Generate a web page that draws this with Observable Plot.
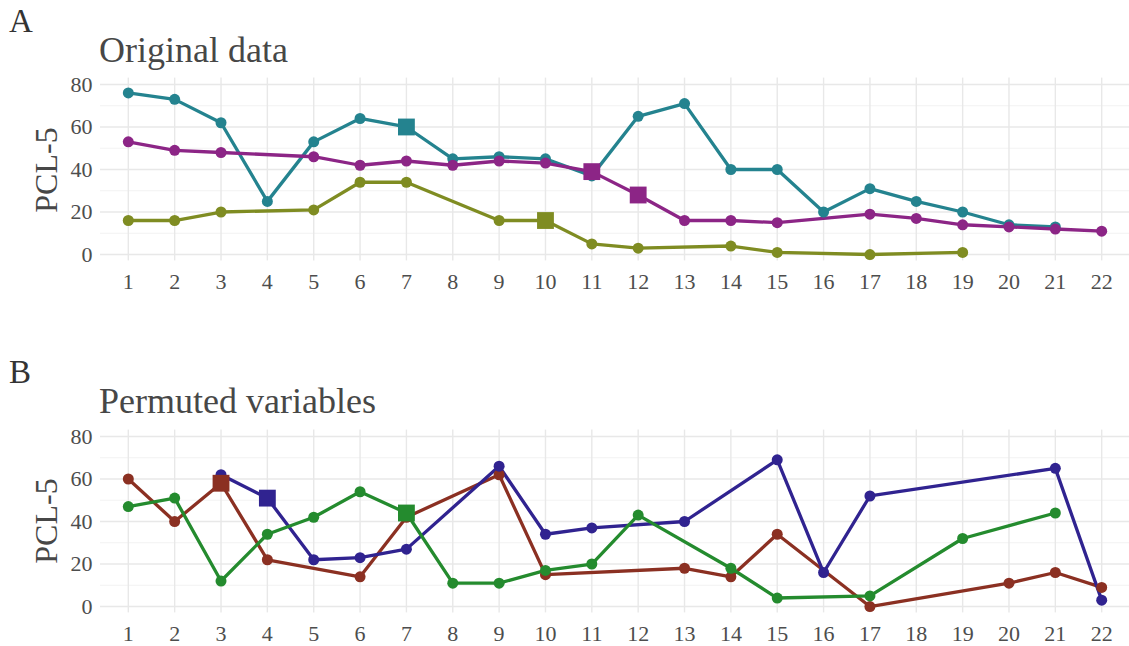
<!DOCTYPE html>
<html>
<head>
<meta charset="utf-8">
<script src="https://cdn.jsdelivr.net/npm/d3@7"></script>
<script src="https://cdn.jsdelivr.net/npm/@observablehq/plot@0.6"></script>
<style>
  html, body { margin: 0; padding: 0; background: #fff; }
  #root { position: relative; width: 1129px; height: 646px; font-family: "Liberation Serif", "Times New Roman", serif; overflow: hidden; }
  #root svg, #root svg text { font-family: "Liberation Serif", "Times New Roman", serif !important; }
  .tag { position: absolute; font-size: 33px; color: #333; line-height: 1; }
  .title { position: absolute; font-size: 36px; color: #474747; line-height: 1; white-space: nowrap; }
  .ylab { position: absolute; width: 90px; height: 32px; text-align: center; font-size: 32px; color: #474747; transform: rotate(-90deg); transform-origin: center; line-height: 1; white-space: nowrap; }
  .panel { position: absolute; left: 0; }
</style>
</head>
<body>
<div id="root">
  <div class="tag" style="left:9px; top:5px;">A</div>
  <div class="title" style="left:99px; top:32px;">Original data</div>
  <div class="ylab" style="left:1px; top:154px;">PCL-5</div>
  <div id="p1" class="panel" style="top:70px;"></div>
  <div class="tag" style="left:9px; top:356px;">B</div>
  <div class="title" style="left:99px; top:383px;">Permuted variables</div>
  <div class="ylab" style="left:1px; top:505px;">PCL-5</div>
  <div id="p2" class="panel" style="top:422px;"></div>
</div>
<script>
// x positions (session numbers)
const sessions = d3.range(1, 23);
const yTicks = [0, 20, 40, 60, 80];
const yMinor = [10, 30, 50, 70];

// Panel A: original data (null = no observation)
const seriesA1 = [76, 73, 62, 25, 53, 64, 60, 45, 46, 45, 37, 65, 71, 40, 40, 20, 31, 25, 20, 14, 13, null];
const seriesA2 = [53, 49, 48, null, 46, 42, 44, 42, 44, 43, 39, 28, 16, 16, 15, null, 19, 17, 14, 13, 12, 11];
const seriesA3 = [16, 16, 20, null, 21, 34, 34, null, 16, 16, 5, 3, null, 4, 1, null, 0, null, 1, null, null, null];
// sessions drawn with a square marker, per series
const squaresA = {A1: [7], A2: [11, 12], A3: [10]};

// Panel B: permuted variables
const seriesB1 = [60, 40, 58, 22, null, 14, 42, null, 62, 15, null, null, 18, 14, 34, null, 0, null, null, 11, 16, 9];
const seriesB2 = [null, null, 62, 51, 22, 23, 27, null, 66, 34, 37, null, 40, null, 69, 16, 52, null, null, null, 65, 3];
const seriesB3 = [47, 51, 12, 34, 42, 54, 44, 11, 11, 17, 20, 43, null, 18, 4, null, 5, null, 32, null, 44, null];
const squaresB = {B1: [3], B2: [4], B3: [7]};

const colorsA = {A1: "#24838f", A2: "#8c2586", A3: "#7f8c22"};
const colorsB = {B1: "#8b3022", B2: "#302390", B3: "#248b2e"};

function toRows(seriesMap, squares) {
  const rows = [];
  for (const [name, vals] of Object.entries(seriesMap)) {
    vals.forEach((v, i) => {
      if (v != null) rows.push({series: name, x: sessions[i], y: v, square: squares[name].includes(sessions[i])});
    });
  }
  return rows;
}

function panel(rows, colors) {
  const names = Object.keys(colors);
  return Plot.plot({
    width: 1129,
    height: 225,
    marginLeft: 100,
    marginRight: 0,
    marginTop: 7.6,
    marginBottom: 34.6,
    style: {fontFamily: "Liberation Serif, Times New Roman, serif", fontSize: "22px", color: "#4d4d4d", background: "transparent"},
    x: {domain: [0.4, 22.6], ticks: sessions, tickFormat: d => d, tickSize: 0, tickPadding: 12, label: null},
    y: {domain: [-3, 83], ticks: yTicks, tickSize: 0, tickPadding: 8, label: null},
    color: {domain: names, range: names.map(n => colors[n])},
    marks: [
      Plot.ruleY(yMinor, {stroke: "#efefef", strokeWidth: 0.8}),
      Plot.ruleY(yTicks, {stroke: "#e8e8e8", strokeWidth: 1.4}),
      Plot.ruleX(sessions, {stroke: "#e8e8e8", strokeWidth: 1.4}),
      Plot.line(rows, {x: "x", y: "y", z: "series", stroke: "series", strokeWidth: 3.3}),
      Plot.dot(rows.filter(d => !d.square), {x: "x", y: "y", fill: "series", r: 5.5, symbol: "circle"}),
      Plot.dot(rows.filter(d => d.square), {x: "x", y: "y", fill: "series", r: 9.5, symbol: "square"})
    ]
  });
}

document.getElementById("p1").append(panel(toRows({A1: seriesA1, A2: seriesA2, A3: seriesA3}, squaresA), colorsA));
document.getElementById("p2").append(panel(toRows({B1: seriesB1, B2: seriesB2, B3: seriesB3}, squaresB), colorsB));
</script>
</body>
</html>
